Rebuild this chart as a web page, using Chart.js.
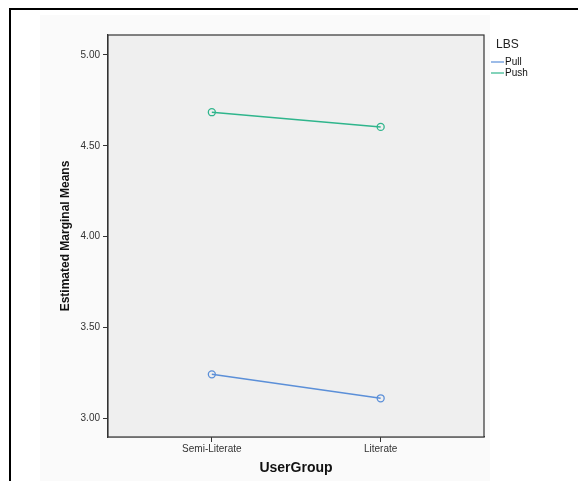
<!DOCTYPE html>
<html lang="en">
<head>
  <meta charset="UTF-8">
  <title>Estimated Marginal Means of UserGroup by LBS</title>
  <script src="https://cdn.jsdelivr.net/npm/chart.js"></script>
  <style>
    html, body {
      margin: 0;
      padding: 0;
      background: #ffffff;
    }
    #wrap {
      position: relative;
      width: 578px;
      height: 481px;
      overflow: hidden;
    }
    #frame {
      position: absolute;
      left: 9px;
      top: 8px;
      width: 600px;
      height: 500px;
      border-left: 2px solid #000;
      border-top: 2px solid #000;
    }
    #inner {
      position: absolute;
      left: 40px;
      top: 15px;
      width: 450px;
      height: 466px;
      background: #fafafa;
    }
    canvas {
      position: absolute;
      left: 0;
      top: 0;
    }
  </style>
</head>
<body>
  <div id="wrap">
    <div id="inner"></div>
    <div id="frame"></div>
    <canvas id="emmChart" width="578" height="481"></canvas>
  </div>

  <script>
    // data
    const userGroups = ['Semi-Literate', 'Literate'];
    const pullMeans = [3.242, 3.110];
    const pushMeans = [4.685, 4.604];
    const yTicks = [3.0, 3.5, 4.0, 4.5, 5.0];
    const seriesNames = ['Pull', 'Push'];
    const seriesColors = ['#5b8fd8', '#2fb58c'];

    const FONT = '"Liberation Sans", Arial, sans-serif';

    function toPoints(values) {
      return values.map((v, i) => ({ x: i, y: v }));
    }

    const datasets = [pullMeans, pushMeans].map((vals, i) => ({
      label: seriesNames[i],
      data: toPoints(vals),
      borderColor: seriesColors[i],
      backgroundColor: 'rgba(0,0,0,0)',
      borderWidth: 1.5,
      pointRadius: 3.5,
      pointBorderWidth: 1.3,
      pointBorderColor: seriesColors[i],
      pointBackgroundColor: 'rgba(0,0,0,0)',
      tension: 0
    }));

    // plot box fill + frame, and the SPSS-style legend on the right
    const spssLook = {
      id: 'spssLook',
      beforeDatasetsDraw(chart) {
        const { ctx, chartArea: a } = chart;
        ctx.save();
        ctx.fillStyle = '#efefef';
        ctx.fillRect(a.left, a.top, a.right - a.left, a.bottom - a.top);
        ctx.restore();
      },
      afterDraw(chart) {
        const { ctx, chartArea: a } = chart;
        ctx.save();
        ctx.strokeStyle = '#333';
        ctx.lineWidth = 1.2;
        ctx.strokeRect(a.left, a.top, a.right - a.left, a.bottom - a.top);

        ctx.fillStyle = '#222';
        ctx.font = '12px ' + FONT;
        ctx.textBaseline = 'middle';
        ctx.fillText('LBS', 496, 45);
        ctx.font = '10px ' + FONT;
        chart.data.datasets.forEach((ds, i) => {
          const y = 62 + i * 11;
          ctx.strokeStyle = ds.borderColor;
          ctx.lineWidth = 1.2;
          ctx.beginPath();
          ctx.moveTo(491, y);
          ctx.lineTo(504, y);
          ctx.stroke();
          ctx.fillStyle = '#111';
          ctx.fillText(ds.label, 505, y);
        });
        ctx.restore();
      }
    };

    new Chart(document.getElementById('emmChart'), {
      type: 'line',
      data: { datasets: datasets },
      plugins: [spssLook],
      options: {
        responsive: false,
        animation: false,
        layout: { padding: { left: 0, top: 35, right: 94, bottom: 0 } },
        plugins: {
          legend: { display: false },
          tooltip: { enabled: false }
        },
        scales: {
          x: {
            type: 'linear',
            min: -0.615,
            max: 1.612,
            afterBuildTicks(scale) {
              scale.ticks = userGroups.map((_, i) => ({ value: i }));
            },
            afterFit(scale) { scale.height = 44; },
            ticks: {
              color: '#333',
              font: { family: FONT, size: 10 },
              padding: 1,
              maxRotation: 0,
              callback: v => userGroups[v]
            },
            grid: { drawOnChartArea: false, tickLength: 5, color: '#333' },
            border: { color: '#333', width: 1.2 },
            title: {
              display: true,
              text: 'UserGroup',
              color: '#111',
              font: { family: FONT, size: 14, weight: 'bold' },
              padding: { top: 1, bottom: 4 }
            }
          },
          y: {
            min: 2.897,
            max: 5.11,
            afterBuildTicks(scale) {
              scale.ticks = yTicks.map(v => ({ value: v }));
            },
            afterFit(scale) { scale.width = 108; },
            ticks: {
              color: '#333',
              font: { family: FONT, size: 10 },
              padding: 3,
              callback: v => Number(v).toFixed(2)
            },
            grid: { drawOnChartArea: false, tickLength: 5, color: '#333' },
            border: { color: '#333', width: 1.2 },
            title: {
              display: true,
              text: 'Estimated Marginal Means',
              color: '#111',
              font: { family: FONT, size: 12, weight: 'bold' },
              padding: { top: 58, bottom: 0 }
            }
          }
        }
      }
    });
  </script>
</body>
</html>
